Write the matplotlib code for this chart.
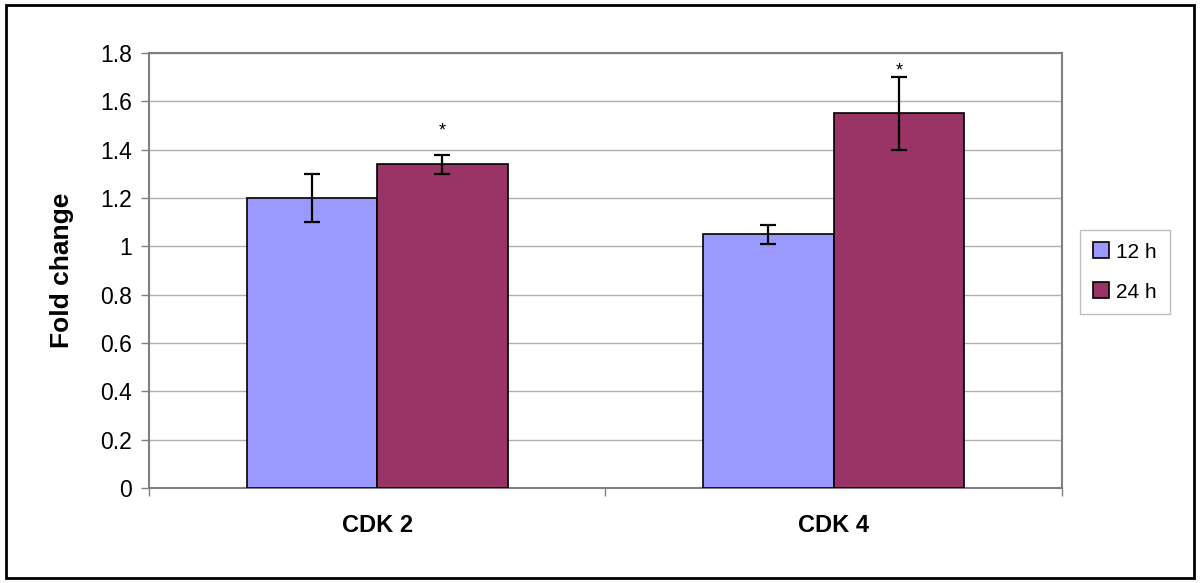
import numpy as np
import matplotlib.pyplot as plt
from matplotlib.lines import Line2D
from matplotlib.patches import Rectangle

plt.rcParams['font.family'] = ['Liberation Sans', 'DejaVu Sans']

genes = ['CDK 2', 'CDK 4']
series = ['12 h', '24 h']
vals_12h = [1.20, 1.05]
err_12h = [0.10, 0.04]
vals_24h = [1.34, 1.55]
err_24h = [0.04, 0.15]
stars_24h = ['*', '*']
star_y = [1.50, 1.75]
colors = ['#9999FF', '#993366']

fig = plt.figure(figsize=(12, 5.83), dpi=100)
ax = fig.add_axes([0.124, 0.163, 0.761, 0.746])

x = np.arange(len(genes))
w = 0.286
err_kw = dict(ecolor='black', elinewidth=1.6, capsize=5.5, capthick=1.6)
ax.bar(x - w / 2, vals_12h, w, yerr=err_12h, color=colors[0], edgecolor='black',
       linewidth=1.2, error_kw=err_kw, zorder=3)
ax.bar(x + w / 2, vals_24h, w, yerr=err_24h, color=colors[1], edgecolor='black',
       linewidth=1.2, error_kw=err_kw, zorder=3)

for i, s in enumerate(stars_24h):
    ax.annotate(s, (x[i] + w / 2, star_y[i]), xytext=(0, -4),
                textcoords='offset points', ha='center', va='center', fontsize=13)

ax.set_xlim(-0.5, 1.5)
ax.set_ylim(0, 1.8)
ax.set_yticks(np.arange(0, 1.81, 0.2))
ax.set_yticklabels(['0', '0.2', '0.4', '0.6', '0.8', '1', '1.2', '1.4', '1.6', '1.8'])
ax.yaxis.grid(True, color='#B0B0B0', linewidth=1.0, zorder=0)
ax.set_axisbelow(True)

ax.set_xticks([-0.5, 0.5, 1.5])
ax.set_xticklabels([])
ax.set_xticks(x, minor=True)
ax.set_xticklabels(genes, minor=True, fontsize=17, fontweight='bold')
ax.tick_params(axis='x', which='minor', length=0, pad=19)
ax.tick_params(axis='x', which='major', length=6, color='#808080', width=1)
ax.tick_params(axis='y', length=6, color='#808080', width=1, labelsize=16.5, pad=6)

for sp in ax.spines.values():
    sp.set_color('#808080')
    sp.set_linewidth(1.5)

ax.set_ylabel('Fold change', fontsize=19, fontweight='bold', labelpad=19)

handles = [Line2D([], [], marker='s', linestyle='none', markersize=12,
                  markerfacecolor=c, markeredgecolor='black', markeredgewidth=1.2)
           for c in colors]
leg = fig.legend(handles, series, loc='upper left', bbox_to_anchor=(0.9, 0.605),
                 fontsize=15, frameon=True, fancybox=False, edgecolor='#B0B0B0',
                 handlelength=0.8, handletextpad=0.35, borderpad=0.6, labelspacing=1.0,
                 borderaxespad=0)
leg.get_frame().set_linewidth(1.0)

fig.patches.append(Rectangle((0.005, 0.008), 0.99, 0.984, transform=fig.transFigure,
                             fill=False, edgecolor='black', linewidth=2))

fig.savefig('out.png', dpi=100)
